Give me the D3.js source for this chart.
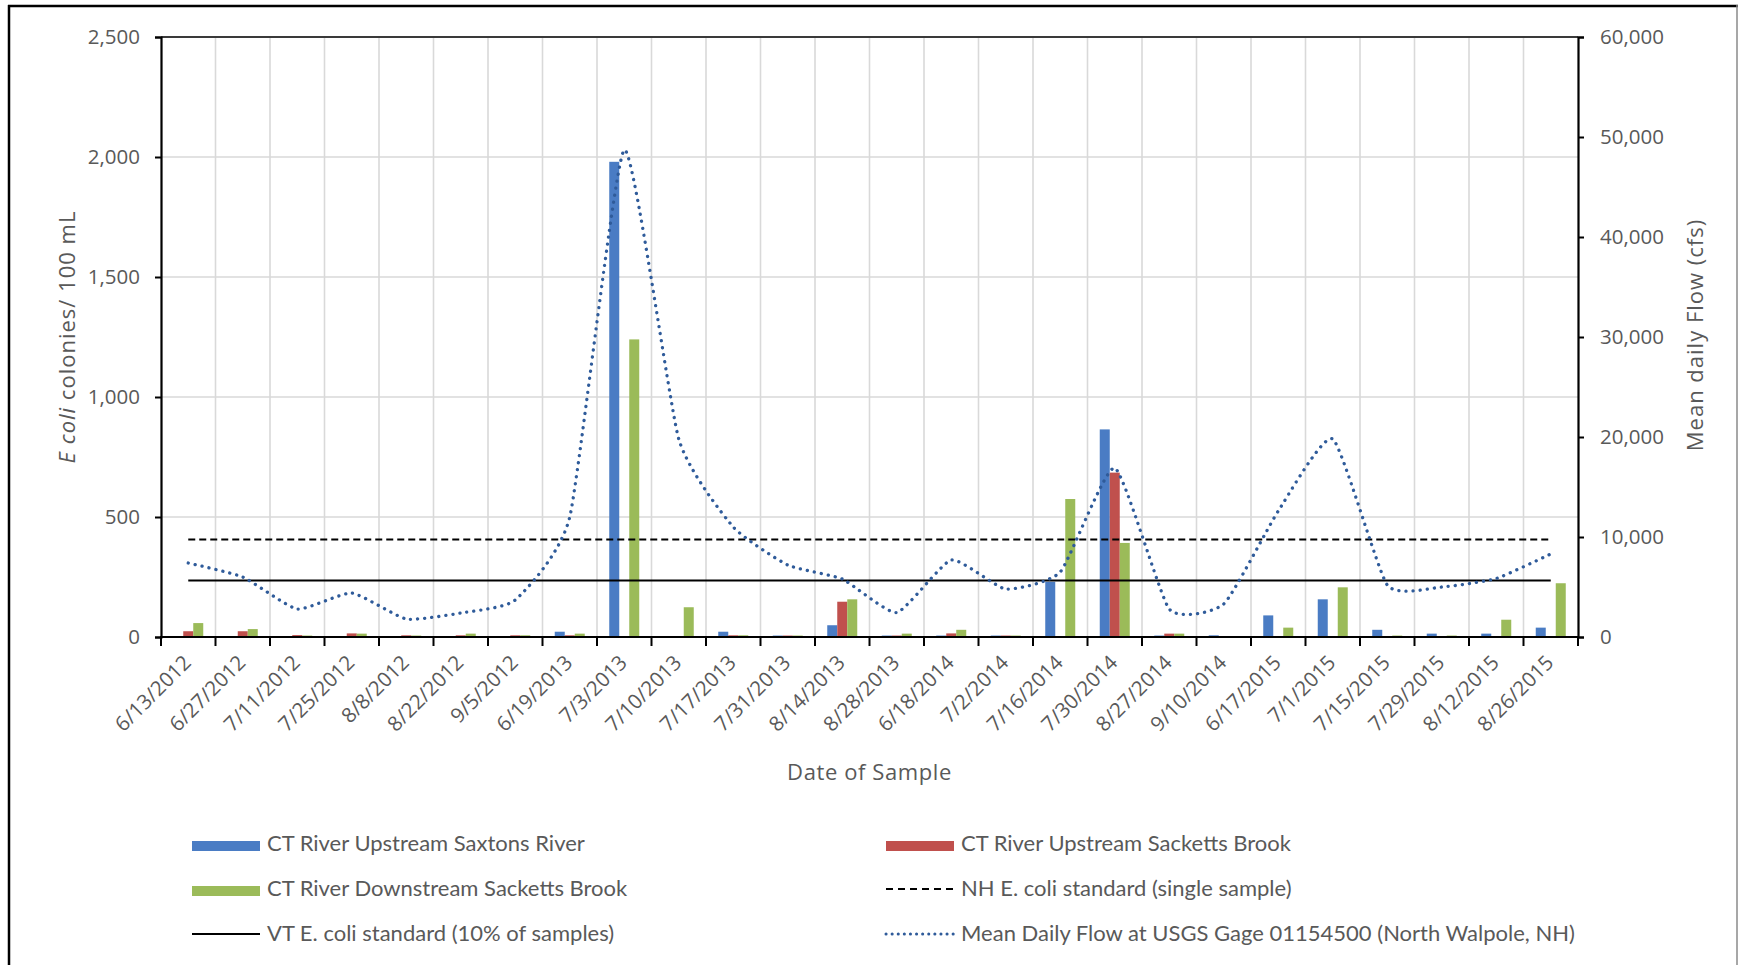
<!DOCTYPE html>
<html><head><meta charset="utf-8">
<script src="https://cdn.jsdelivr.net/npm/d3@7/dist/d3.min.js"></script>
<style>
body{margin:0;background:#fff}
svg{display:block}
text{font-family:"Open Sans",sans-serif;fill:#595959}
.leg text{font-family:Lato,"Open Sans",sans-serif}
</style>
</head><body>
<svg id="chart" width="1739" height="965"></svg>
<script>
// ---------- data ----------
const categories = ["6/13/2012","6/27/2012","7/11/2012","7/25/2012","8/8/2012","8/22/2012","9/5/2012",
  "6/19/2013","7/3/2013","7/10/2013","7/17/2013","7/31/2013","8/14/2013","8/28/2013",
  "6/18/2014","7/2/2014","7/16/2014","7/30/2014","8/27/2014","9/10/2014",
  "6/17/2015","7/1/2015","7/15/2015","7/29/2015","8/12/2015","8/26/2015"];
const upstreamSaxtons   = [null,null,null,null,null,null,null,22,1980,null,22,6,49,6,6,6,230,865,6,7,90,157,30,14,14,39];
const upstreamSacketts  = [24,24,8,15,7,7,7,7,null,null,7,6,147,6,15,6,null,685,14,null,null,null,null,null,null,null];
const downstreamSacketts= [58,33,6,14,6,14,7,14,1240,124,7,6,157,14,30,6,575,392,14,null,39,207,6,6,72,224];
const meanDailyFlow     = [7400,6000,2800,4400,1800,2400,3700,12000,48700,19800,11000,7200,5800,2450,7700,4800,6500,16900,2800,3300,12600,19800,5200,5000,5850,8300];
const nhStandard = 406;
const vtStandard = 235;
const leftTicks  = [0,500,1000,1500,2000,2500];
const rightTicks = [0,10000,20000,30000,40000,50000,60000];
const seriesNames = ["CT River Upstream Saxtons River","CT River Upstream Sacketts Brook","CT River Downstream Sacketts Brook"];
const seriesColors = ["#4a7cc4","#c0504d","#9bbb59"];
const lineNames = ["NH E. coli standard (single sample)","VT E. coli standard (10% of samples)","Mean Daily Flow at USGS Gage 01154500 (North Walpole, NH)"];

// ---------- layout ----------
const P = {l:161, r:1578, t:37, b:637};
const svg = d3.select("#chart");

// outer frame
svg.append("line").attr("x1",9).attr("x2",9).attr("y1",5).attr("y2",965).attr("stroke","#000").attr("stroke-width",2.5);
svg.append("line").attr("x1",8).attr("x2",1738).attr("y1",6).attr("y2",6).attr("stroke","#000").attr("stroke-width",2.5);
svg.append("line").attr("x1",1737).attr("x2",1737).attr("y1",5).attr("y2",965).attr("stroke","#8a8a8a").attr("stroke-width",1.5);

const x = d3.scaleBand().domain(categories).range([P.l, P.r]).paddingInner(0).paddingOuter(0);
const sub = d3.scaleBand().domain([0,1,2]).range([0, x.bandwidth()]).paddingInner(0).paddingOuter(1.225);
const y = d3.scaleLinear().domain([0,2500]).range([P.b, P.t]);
const y2 = d3.scaleLinear().domain([0,60000]).range([P.b, P.t]);
const cx = c => x(c) + x.bandwidth()/2;

// gridlines
const grid = svg.append("g");
grid.selectAll("line.h").data(leftTicks.slice(1,-1)).join("line")
  .attr("x1",P.l).attr("x2",P.r).attr("y1",d=>y(d)).attr("y2",d=>y(d))
  .attr("stroke","#d9d9d9").attr("stroke-width",1.6);
grid.selectAll("line.v").data(categories.slice(1)).join("line")
  .attr("x1",d=>x(d)).attr("x2",d=>x(d)).attr("y1",P.t).attr("y2",P.b)
  .attr("stroke","#d9d9d9").attr("stroke-width",1.6);
svg.append("line").attr("x1",P.l).attr("x2",P.r).attr("y1",y(2500)).attr("y2",y(2500))
  .attr("stroke","#3a3a3a").attr("stroke-width",2);

// bars
const barSeries = [upstreamSaxtons, upstreamSacketts, downstreamSacketts];
barSeries.forEach((vals, si) => {
  svg.append("g").selectAll("rect")
    .data(categories.map((c,i)=>({c, v: vals[i]})).filter(d=>d.v!=null))
    .join("rect")
    .attr("x", d=>x(d.c)+sub(si)).attr("width", sub.bandwidth())
    .attr("y", d=>y(d.v)).attr("height", d=>y(0)-y(d.v))
    .attr("fill", seriesColors[si]);
});

// standards
const stdLine = d3.line().x(d=>cx(d.c)).y(d=>y(d.v));
svg.append("path").attr("d", stdLine(categories.map(c=>({c, v:nhStandard}))))
  .attr("fill","none").attr("stroke","#000").attr("stroke-width",2).attr("stroke-dasharray","7,4");
svg.append("path").attr("d", stdLine(categories.map(c=>({c, v:vtStandard}))))
  .attr("fill","none").attr("stroke","#000").attr("stroke-width",2);

// flow
const flowLine = d3.line().x((d,i)=>cx(categories[i])).y(d=>y2(d)).curve(d3.curveCardinal.tension(0.5));
svg.append("path").attr("d", flowLine(meanDailyFlow))
  .attr("fill","none").attr("stroke","#2f5b9a").attr("stroke-width",3.3)
  .attr("stroke-linecap","round").attr("stroke-dasharray","0.1,7");

// left axis
const gl = svg.append("g").attr("transform",`translate(${P.l},0)`)
  .call(d3.axisLeft(y).tickValues(leftTicks).tickFormat(d3.format(",")).tickSize(6).tickPadding(15));
// right axis
const gr = svg.append("g").attr("transform",`translate(${P.r},0)`)
  .call(d3.axisRight(y2).tickValues(rightTicks).tickFormat(d3.format(",")).tickSize(6).tickPadding(16));
[gl,gr].forEach(g=>{
  g.select(".domain").attr("stroke","#000").attr("stroke-width",2.2);
  g.selectAll(".tick line").attr("stroke","#000").attr("stroke-width",2);
  g.selectAll(".tick text").attr("font-size",20.5).attr("fill","#595959").attr("font-family","Open Sans");
});

// bottom axis
const gb = svg.append("g");
gb.append("line").attr("x1",P.l-1).attr("x2",P.r+1).attr("y1",P.b).attr("y2",P.b).attr("stroke","#000").attr("stroke-width",2.2);
gb.selectAll("line.t").data(categories.map(c=>x(c)).concat([x.range()[1]])).join("line")
  .attr("x1",d=>d).attr("x2",d=>d).attr("y1",P.b).attr("y2",P.b+9).attr("stroke","#000").attr("stroke-width",2);
gb.selectAll("text").data(categories).join("text")
  .attr("transform",d=>`translate(${cx(d)+4},${P.b+27}) rotate(-45)`)
  .attr("text-anchor","end").attr("font-size",20.5).text(d=>d);

// axis titles
svg.append("text").attr("x",869.5).attr("y",780).attr("text-anchor","middle").attr("font-size",22)
  .attr("letter-spacing",0.6).text("Date of Sample");
const lt = svg.append("text").attr("transform","translate(66,337) rotate(-90)").attr("text-anchor","middle")
  .attr("dominant-baseline","central").attr("font-size",22).attr("letter-spacing",1);
lt.append("tspan").attr("font-style","italic").text("E coli");
lt.append("tspan").text(" colonies/ 100 mL");
svg.append("text").attr("transform","translate(1694,335) rotate(-90)").attr("text-anchor","middle")
  .attr("dominant-baseline","central").attr("font-size",22).attr("letter-spacing",1).text("Mean daily Flow (cfs)");

// legend
const leg = svg.append("g").attr("class","leg");
const items = [
  {name:seriesNames[0], type:"bar", color:seriesColors[0], col:0, row:0},
  {name:seriesNames[1], type:"bar", color:seriesColors[1], col:1, row:0},
  {name:seriesNames[2], type:"bar", color:seriesColors[2], col:0, row:1},
  {name:lineNames[0], type:"dash", color:"#000", col:1, row:1},
  {name:lineNames[1], type:"solid", color:"#000", col:0, row:2},
  {name:lineNames[2], type:"dot", color:"#2f5b9a", col:1, row:2}
];
const colX = [192, 886], rowY = [851, 896, 941];
items.forEach(it=>{
  const x0 = colX[it.col], b = rowY[it.row];
  if (it.type==="bar") {
    leg.append("rect").attr("x",x0).attr("y",b-10).attr("width",68).attr("height",10).attr("fill",it.color);
  } else {
    const ln = leg.append("line").attr("x1",x0).attr("x2",x0+68).attr("y1",b-7).attr("y2",b-7)
      .attr("stroke",it.color).attr("stroke-width", it.type==="dot"?3:2);
    if (it.type==="dash") ln.attr("stroke-dasharray","7,5");
    if (it.type==="dot") ln.attr("stroke-dasharray","0.1,6").attr("stroke-linecap","round");
  }
  leg.append("text").attr("x",x0+75).attr("y",b).attr("font-size",22).text(it.name);
});
</script>
</body></html>
